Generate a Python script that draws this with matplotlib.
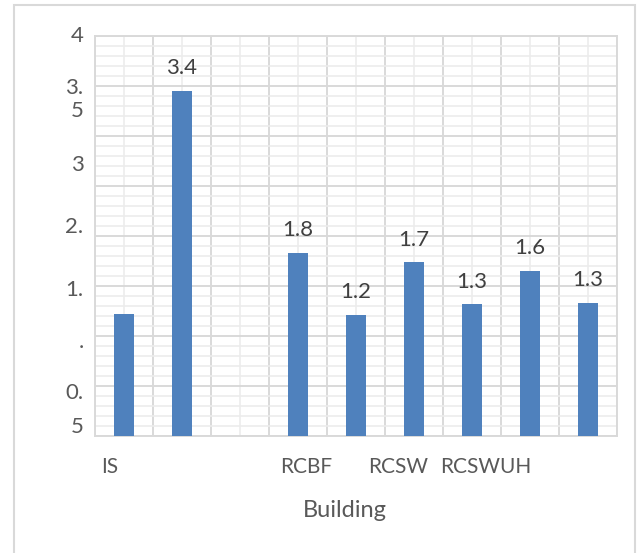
import matplotlib
matplotlib.use("Agg")
import matplotlib.pyplot as plt
import numpy as np
from matplotlib.patches import Rectangle

plt.rcParams['font.family'] = ['Lato', 'DejaVu Sans']

# Data
categories = ["IS", "", "", "RCBF", "", "RCSW", "", "RCSWUH", ""]
values = [1.22, 3.45, 0.0, 1.83, 1.21, 1.74, 1.32, 1.65, 1.33]
value_labels = [None, "3.4", None, "1.8", "1.2", "1.7", "1.3", "1.6", "1.3"]
# as rendered (clipped / wrapped) y tick labels and their data positions
ytick_texts = ["4", "3.", "5", "3", "2.", "1.", ".", "0.", "5"]
ytick_pos = [4.0, 3.48, 3.25, 2.71, 2.09, 1.46, 0.94, 0.43, 0.09]
# x labels as rendered, with category-index positions
xlab_texts = ["IS", "RCBF", "RCSW", "RCSWUH"]
xlab_pos = [-0.24, 3.14, 4.72, 6.24]

W, H = 638, 553
fig = plt.figure(figsize=(W / 100, H / 100), dpi=100)

# outer chart border
fig.patches.append(Rectangle((14 / W, -0.05), (635 - 14) / W, (553 - 5) / H + 0.05,
                             transform=fig.transFigure, fill=False,
                             edgecolor="#d9d9d9", linewidth=1.5))

ax = fig.add_axes([95 / W, (553 - 436) / H, 522 / W, 400 / H])
n = len(values)
x = np.arange(n)
ax.set_xlim(-0.5, n - 0.5)
ax.set_ylim(0, 4)

# gridlines
ax.set_yticks(np.arange(0, 4.01, 0.5))
ax.set_yticks(np.arange(0, 4.01, 0.1), minor=True)
ax.set_xticks(np.arange(-0.5, n, 1.0))
ax.set_xticks(x, minor=True)
ax.grid(which="major", color="#d9d9d9", linewidth=1.4)
ax.grid(which="minor", color="#ececec", linewidth=1.2)
ax.set_axisbelow(True)
ax.tick_params(which="both", length=0, labelleft=False, labelbottom=False)
for s in ax.spines.values():
    s.set_color("#d9d9d9")
    s.set_linewidth(1.4)

ax.bar(x, values, width=0.33, color="#4F81BD", zorder=3)

for xi, v, lab in zip(x, values, value_labels):
    if lab:
        ax.annotate(lab, (xi, v), xytext=(0, 9), textcoords="offset points",
                    ha="center", va="bottom", fontsize=16, color="#404040")

ytr = ax.get_yaxis_transform()
for t, p in zip(ytick_texts, ytick_pos):
    ax.text(-0.022, p, t, transform=ytr, ha="right", va="center",
            fontsize=16, color="#595959", clip_on=False)

xtr = ax.get_xaxis_transform()
for t, p in zip(xlab_texts, xlab_pos):
    ax.text(p, -0.077, t, transform=xtr, ha="center", va="center",
            fontsize=15, color="#595959", clip_on=False)

ax.text(3.8, -0.187, "Building", transform=xtr, ha="center", va="center",
        fontsize=17, color="#595959", clip_on=False)

fig.savefig("out.png", dpi=100)
